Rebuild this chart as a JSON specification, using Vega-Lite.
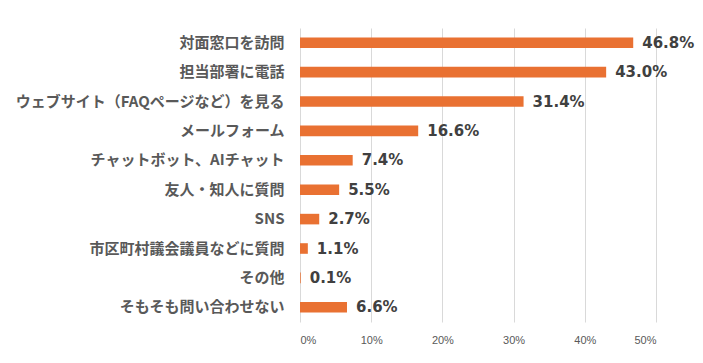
{
  "$schema": "https://vega.github.io/schema/vega-lite/v6.json",
  "autosize": {"type": "none"},
  "padding": {"left": 300, "top": 28, "right": 47, "bottom": 41},
  "width": 356,
  "height": 294,
  "background": "white",
  "config": {"view": {"stroke": null}, "font": "Noto Sans CJK JP"},
  "data": {"values": [
    {"item": "対面窓口を訪問", "value": 0.468},
    {"item": "担当部署に電話", "value": 0.430},
    {"item": "ウェブサイト（FAQページなど）を見る", "value": 0.314},
    {"item": "メールフォーム", "value": 0.166},
    {"item": "チャットボット、AIチャット", "value": 0.074},
    {"item": "友人・知人に質問", "value": 0.055},
    {"item": "SNS", "value": 0.027},
    {"item": "市区町村議会議員などに質問", "value": 0.011},
    {"item": "その他", "value": 0.001},
    {"item": "そもそも問い合わせない", "value": 0.066}
  ]},
  "encoding": {
    "y": {"field": "item", "type": "nominal", "sort": null,
      "scale": {"paddingInner": 0.64, "paddingOuter": 0.32},
      "axis": {"title": null, "domain": false, "ticks": false, "labelPadding": 16,
        "labelFont": "Noto Sans CJK JP", "labelFontWeight": "bold", "labelFontSize": 15,
        "labelColor": "#595959", "labelLimit": 300}},
    "x": {"field": "value", "type": "quantitative",
      "scale": {"domain": [0, 0.5], "nice": false},
      "axis": {"title": null, "format": ".0%", "values": [0, 0.1, 0.2, 0.3, 0.4, 0.5],
        "domain": false, "ticks": false, "grid": true, "gridColor": "#d9d9d9",
        "labelColor": "#595959", "labelFontSize": 11, "labelPadding": 12,
        "labelFont": "Liberation Sans"}}
  },
  "layer": [
    {"mark": {"type": "bar", "color": "#E97132"}},
    {"mark": {"type": "text", "align": "left", "dx": 9, "fontWeight": "bold", "fontSize": 15,
      "color": "#404040", "font": "DejaVu Sans"},
     "encoding": {"text": {"field": "value", "format": ".1%"}}}
  ]
}
